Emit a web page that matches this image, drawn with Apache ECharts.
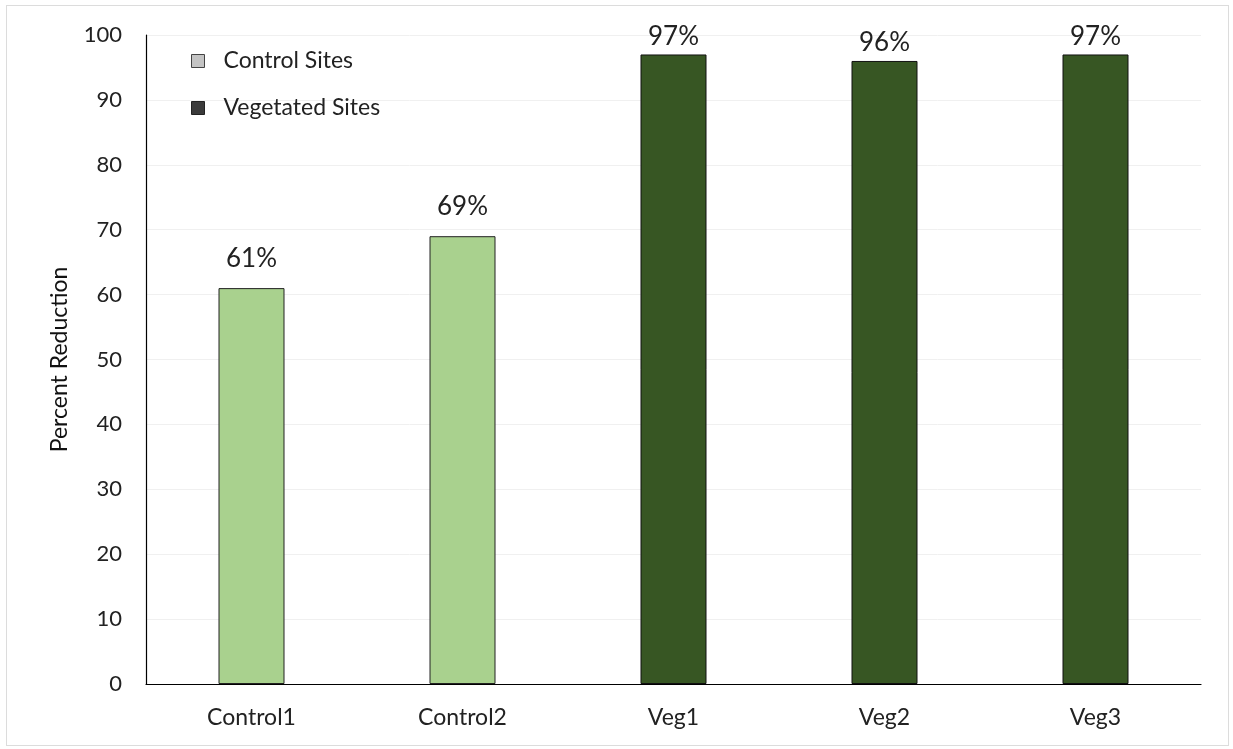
<!DOCTYPE html>
<html>
<head>
<meta charset="utf-8">
<script src="https://cdn.jsdelivr.net/npm/echarts@6/dist/echarts.min.js"></script>
<style>
  html, body { margin: 0; padding: 0; background: #fff; }
  #frame { position: absolute; left: 6px; top: 5px; width: 1223px; height: 741px; border: 1px solid #dcdcdc; box-sizing: border-box; }
  #chart { position: absolute; left: 0; top: 0; width: 1233px; height: 749px; }
</style>
</head>
<body>
<div id="frame"></div>
<div id="chart"></div>
<script>
// Sites along the x axis
const sites = ['Control1', 'Control2', 'Veg1', 'Veg2', 'Veg3'];
// Percent reduction per site, split by site type
const controlValues = [61, 69, null, null, null];
const vegetatedValues = [null, null, 97, 96, 97];
const seriesNames = ['Control Sites', 'Vegetated Sites'];

const FONT = 'Lato, "Open Sans", sans-serif';

const chart = echarts.init(document.getElementById('chart'), null, { renderer: 'canvas' });

chart.setOption({
  animation: false,
  grid: { left: 146, right: 32, top: 35, bottom: 65 },
  legend: {
    orient: 'vertical',
    left: 186,
    top: 44,
    itemWidth: 13,
    itemHeight: 13,
    itemGap: 23,
    textStyle: { fontFamily: FONT, fontSize: 23, lineHeight: 24, color: '#222', padding: [0, 0, 0, 14] },
    data: [
      { name: seriesNames[0], icon: 'rect', itemStyle: { color: '#c4c4c4', borderColor: '#444', borderWidth: 1 } },
      { name: seriesNames[1], icon: 'rect', itemStyle: { color: '#3a3a3a', borderColor: '#222', borderWidth: 1 } }
    ]
  },
  xAxis: {
    type: 'category',
    data: sites,
    axisLine: { lineStyle: { color: '#000', width: 1.2 } },
    axisTick: { show: false },
    axisLabel: { fontFamily: FONT, fontSize: 23, color: '#222', margin: 22 }
  },
  yAxis: {
    type: 'value',
    min: 0,
    max: 100,
    interval: 10,
    name: 'Percent Reduction',
    nameLocation: 'middle',
    nameGap: 75,
    nameTextStyle: { fontFamily: FONT, fontSize: 23, color: '#111' },
    axisLine: { show: true, lineStyle: { color: '#000', width: 1.2 } },
    axisTick: { show: false },
    axisLabel: { fontFamily: FONT, fontSize: 22, color: '#222', margin: 24 },
    splitLine: { show: true, lineStyle: { color: '#f0f0f0', width: 1 } }
  },
  series: [
    {
      name: seriesNames[0],
      type: 'bar',
      data: controlValues,
      barWidth: 66,
      barGap: '-100%',
      itemStyle: { color: '#a9d18e', borderColor: '#222', borderWidth: 1 },
      label: {
        show: true,
        position: 'top',
        distance: 17,
        formatter: p => p.value + '%',
        fontFamily: FONT,
        fontSize: 26,
        color: '#222'
      }
    },
    {
      name: seriesNames[1],
      type: 'bar',
      data: vegetatedValues,
      barWidth: 66,
      barGap: '-100%',
      itemStyle: { color: '#375623', borderColor: '#111', borderWidth: 1 },
      label: {
        show: true,
        position: 'top',
        distance: 5,
        formatter: p => p.value + '%',
        fontFamily: FONT,
        fontSize: 26,
        color: '#222'
      }
    }
  ]
});
</script>
</body>
</html>
